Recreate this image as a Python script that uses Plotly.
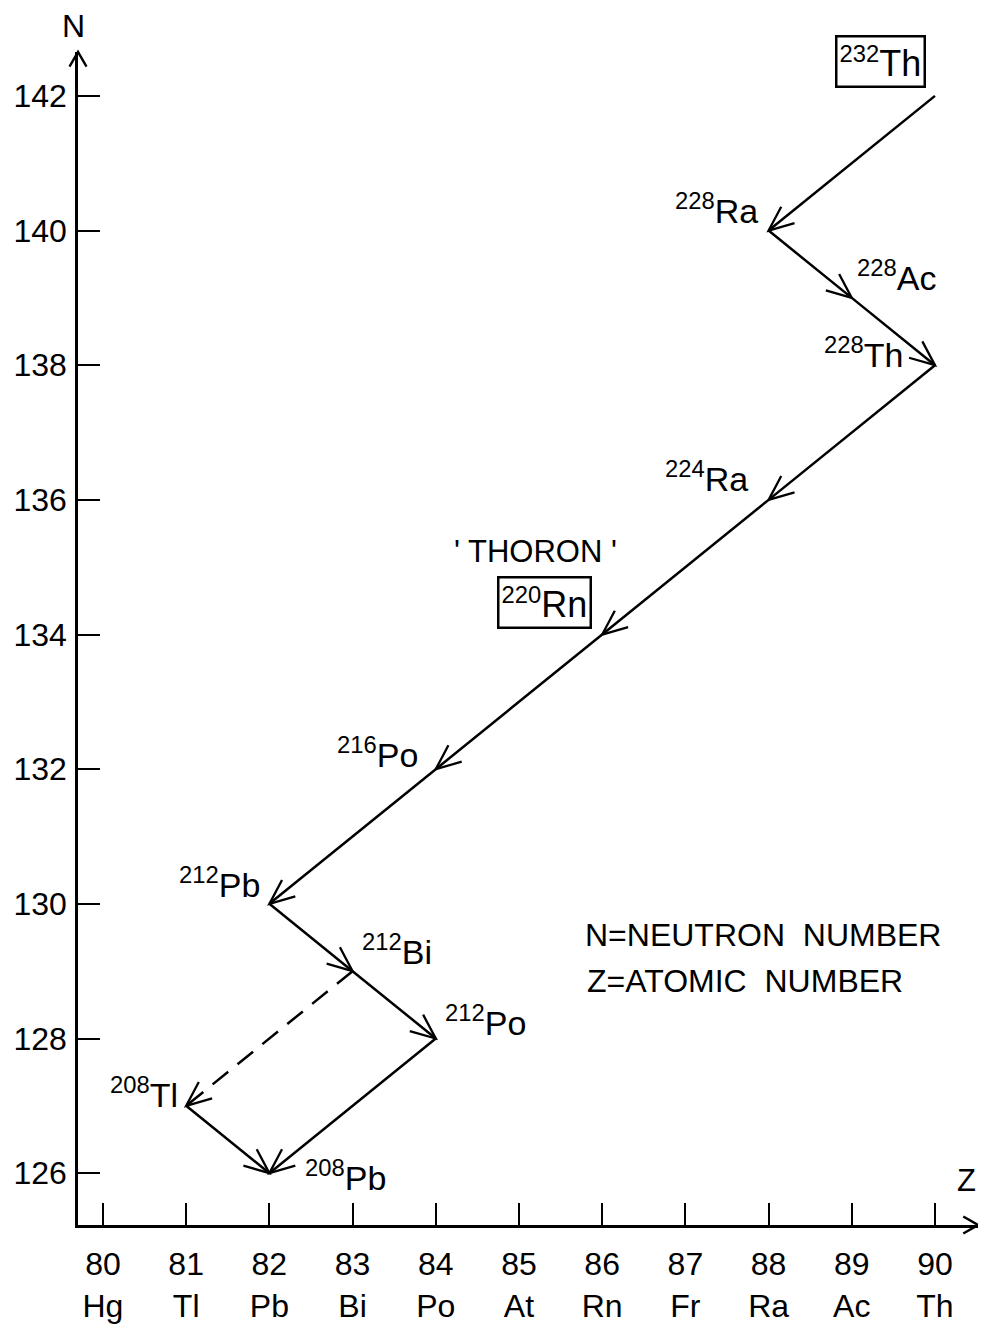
import math
import plotly.graph_objects as go

# ---------------- data ----------------
mass_number = [232, 228, 228, 228, 224, 220, 216, 212, 212, 212, 208, 208]
element_symbol = ["Th", "Ra", "Ac", "Th", "Ra", "Rn", "Po", "Pb", "Bi", "Po", "Tl", "Pb"]
atomic_number_Z = [90, 88, 89, 90, 88, 86, 84, 82, 83, 84, 81, 82]
neutron_number_N = [142, 140, 139, 138, 136, 134, 132, 130, 129, 128, 127, 126]

# decays: parent index -> daughter index
decay_parent = [0, 1, 2, 3, 4, 5, 6, 7, 8, 8, 9, 10]
decay_daughter = [1, 2, 3, 4, 5, 6, 7, 8, 9, 10, 11, 11]
decay_minor_branch = [False, False, False, False, False, False, False, False, False, True, False, False]

z_tick_values = [80, 81, 82, 83, 84, 85, 86, 87, 88, 89, 90]
z_tick_elements = ["Hg", "Tl", "Pb", "Bi", "Po", "At", "Rn", "Fr", "Ra", "Ac", "Th"]
n_tick_values = [126, 128, 130, 132, 134, 136, 138, 140, 142]

boxed_nuclides = [0, 5]          # 232Th and 220Rn are framed
thoron_note = "' THORON '"
legend_lines = ["N=NEUTRON  NUMBER", "Z=ATOMIC  NUMBER"]

# ---------------- styling / layout ----------------
FONT = "Liberation Sans"
INK = "black"
LW = 2.5

W, H = 970, 1316                 # page adds an 8px body margin on every side
M_L, M_R, M_T, M_B = 70, 0, 44, 96
Z_RANGE = [79.700, 90.517]
N_RANGE = [125.230, 142.652]
PX_Z = (W - M_L - M_R) / (Z_RANGE[1] - Z_RANGE[0])
PX_N = (H - M_T - M_B) / (N_RANGE[1] - N_RANGE[0])

HEAD_LEN = 27
HEAD_ANGLE = math.radians(23)

# label placement (xanchor, yanchor, xshift, yshift) per nuclide
label_place = [
    ("right", "bottom", -9, 8),
    ("right", "middle", -9, 22),
    ("left", "middle", 3, 22),
    ("right", "middle", -30, 13),
    ("right", "middle", -19, 23),
    ("right", "bottom", -10, 6),
    ("right", "middle", -16, 17),
    ("right", "middle", -7, 21),
    ("left", "middle", 7, 22),
    ("left", "middle", 7, 18),
    ("right", "middle", -6, 13),
    ("left", "middle", 34, -2),
]


def chevron_path(ux, uy, length, half_angle):
    """V-shaped head with tip at (0,0); (ux,uy) points from tip back along the shaft (pixels, y up)."""
    pts = []
    for s in (1, -1):
        c, si = math.cos(s * half_angle), math.sin(s * half_angle)
        bx = (ux * c - uy * si) * length
        by = (ux * si + uy * c) * length
        pts.append((bx, by))
    return f"M{pts[0][0]:.2f},{pts[0][1]:.2f} L0,0 L{pts[1][0]:.2f},{pts[1][1]:.2f}"


fig = go.Figure()
shapes = []

# decay paths + arrowheads at each daughter
for p, d, minor in zip(decay_parent, decay_daughter, decay_minor_branch):
    zf, nf = atomic_number_Z[p], neutron_number_N[p]
    zt, nt = atomic_number_Z[d], neutron_number_N[d]
    fig.add_trace(go.Scatter(
        x=[zf, zt], y=[nf, nt], mode="lines",
        line=dict(color=INK, width=LW, dash="20px,12px" if minor else "solid"),
        hoverinfo="skip", showlegend=False,
    ))
    dx, dy = (zf - zt) * PX_Z, (nf - nt) * PX_N
    norm = math.hypot(dx, dy)
    shapes.append(dict(
        type="path", xref="x", yref="y", xsizemode="pixel", ysizemode="pixel",
        xanchor=zt, yanchor=nt,
        path=chevron_path(dx / norm, dy / norm, HEAD_LEN, HEAD_ANGLE),
        line=dict(color=INK, width=2.3),
    ))

# axis arrowheads
shapes.append(dict(
    type="path", xref="paper", yref="paper", xsizemode="pixel", ysizemode="pixel",
    xanchor=0, yanchor=1, path=chevron_path(0, -1, 17, math.radians(30)),
    line=dict(color=INK, width=2.4),
))
shapes.append(dict(
    type="path", xref="paper", yref="paper", xsizemode="pixel", ysizemode="pixel",
    xanchor=1, yanchor=0, path=chevron_path(-1, 0, 17, math.radians(30)),
    line=dict(color=INK, width=2.4),
))

annotations = []
# nuclide labels
for i, (a, s, z, n) in enumerate(zip(mass_number, element_symbol, atomic_number_Z, neutron_number_N)):
    xa, ya, xs, ys = label_place[i]
    boxed = i in boxed_nuclides
    txt = f'<span style="font-size:34px"><sup>{a}</sup></span>{s}'
    ann = dict(
        x=z, y=n, xref="x", yref="y", text=txt, showarrow=False,
        xanchor=xa, yanchor=ya, xshift=xs, yshift=ys,
        font=dict(family=FONT, size=36 if boxed else 34, color=INK),
    )
    if boxed:
        ann.update(bordercolor=INK, borderwidth=2.5, borderpad=2)
    annotations.append(ann)

# THORON note above 220Rn
annotations.append(dict(
    x=atomic_number_Z[5], y=neutron_number_N[5], xref="x", yref="y",
    text=thoron_note, showarrow=False, xanchor="center", yanchor="middle",
    xshift=-67, yshift=83, font=dict(family=FONT, size=31, color=INK),
))

# legend text
annotations.append(dict(
    x=0.561, y=0.247, xref="paper", yref="paper", text=legend_lines[0],
    showarrow=False, xanchor="left", yanchor="middle",
    font=dict(family=FONT, size=32, color=INK),
))
annotations.append(dict(
    x=0.563, y=0.208, xref="paper", yref="paper", text=legend_lines[1],
    showarrow=False, xanchor="left", yanchor="middle",
    font=dict(family=FONT, size=32, color=INK),
))

# axis letters
annotations.append(dict(
    x=0, y=1, xref="paper", yref="paper", text="N", showarrow=False,
    xanchor="center", yanchor="middle", xshift=-5, yshift=26,
    font=dict(family=FONT, size=32, color=INK),
))
annotations.append(dict(
    x=1, y=0, xref="paper", yref="paper", text="Z", showarrow=False,
    xanchor="right", yanchor="middle", xshift=0, yshift=45,
    font=dict(family=FONT, size=31, color=INK),
))

fig.update_layout(
    width=W, height=H,
    margin=dict(l=M_L, r=M_R, t=M_T, b=M_B),
    paper_bgcolor="white", plot_bgcolor="white",
    font=dict(family=FONT, color=INK),
    annotations=annotations,
    shapes=shapes,
    showlegend=False,
)

fig.update_xaxes(
    range=Z_RANGE,
    tickvals=z_tick_values,
    ticktext=[f"{v}<br>{e}" for v, e in zip(z_tick_values, z_tick_elements)],
    ticks="inside", ticklen=22, tickwidth=2.4, tickcolor=INK,
    showline=True, linewidth=2.6, linecolor=INK,
    showgrid=False, zeroline=False,
    tickfont=dict(family=FONT, size=32, color=INK),
    ticklabelstandoff=9,
)
fig.update_yaxes(
    range=N_RANGE,
    tickvals=n_tick_values,
    ticks="inside", ticklen=22, tickwidth=2.4, tickcolor=INK,
    showline=True, linewidth=2.6, linecolor=INK,
    showgrid=False, zeroline=False,
    tickfont=dict(family=FONT, size=32, color=INK),
    ticklabelstandoff=2,
)

fig.write_html("out.html")
